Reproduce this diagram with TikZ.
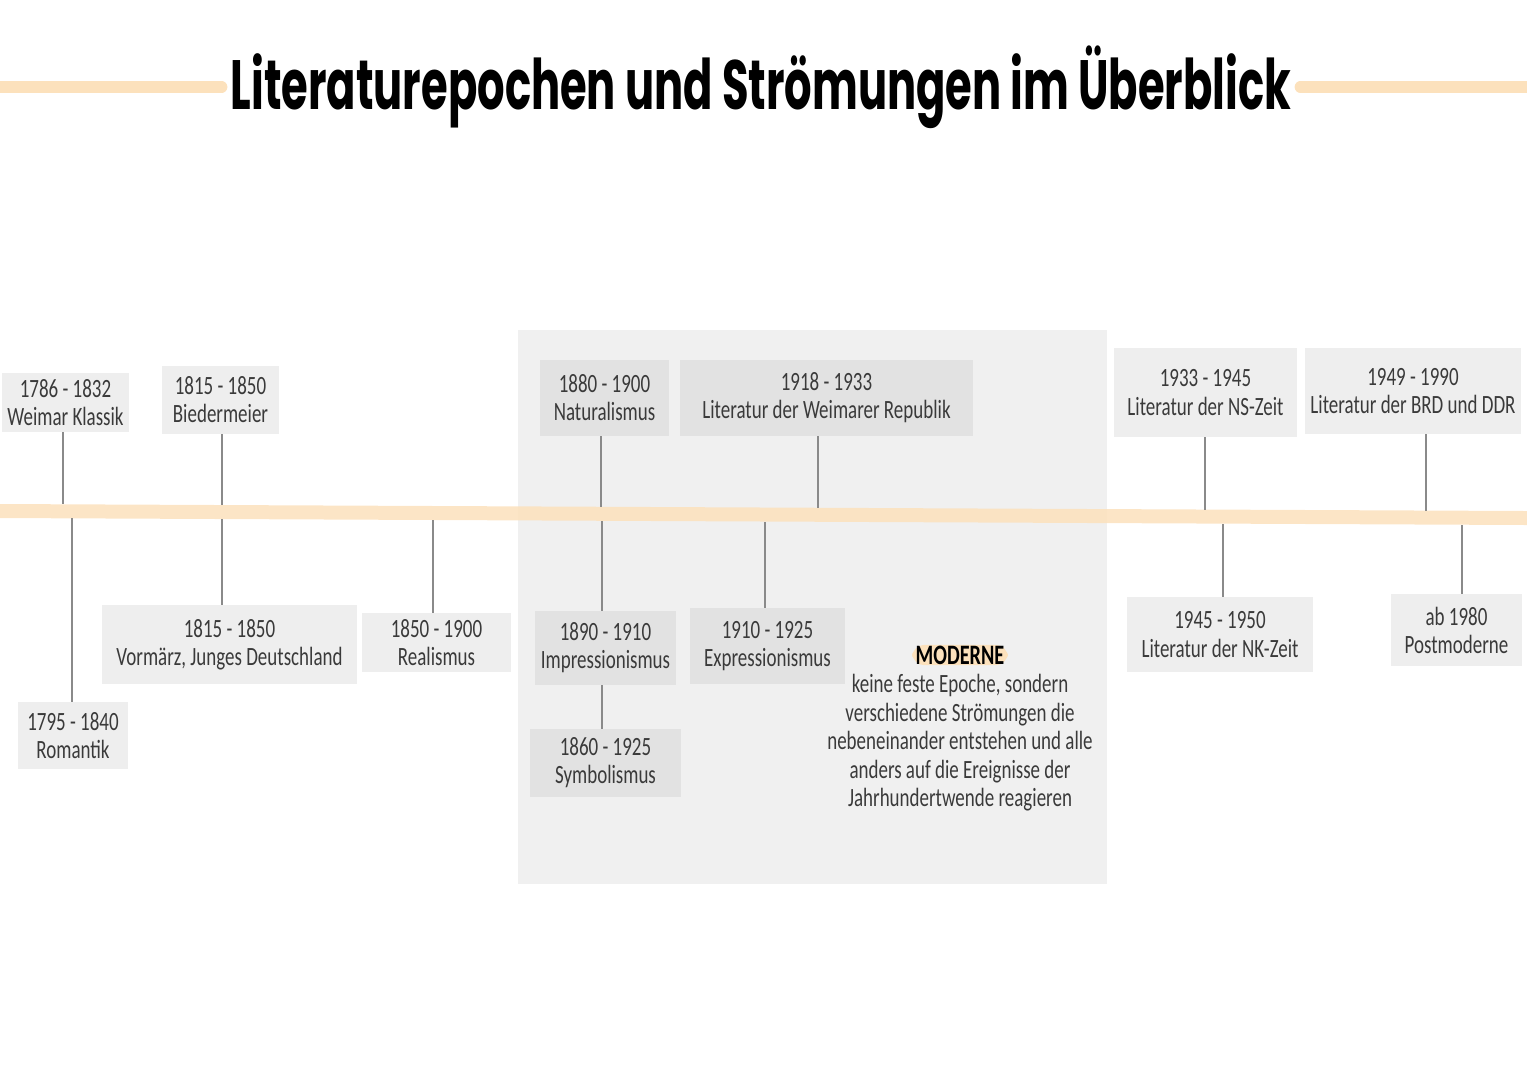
\documentclass[tikz,border=0pt]{standalone}
\usepackage{fontspec}
\setmainfont{Carlito}[FakeStretch=0.72]
\newfontfamily\titelschrift{Poppins}[FakeStretch=0.62]
\definecolor{pfirsich}{HTML}{FCE1BC}
\definecolor{kasten}{HTML}{EEEEEE}
\definecolor{kastendunkel}{HTML}{E2E2E2}
\definecolor{modernegrau}{HTML}{F0F0F0}
\definecolor{stielgrau}{HTML}{8A8A8A}
\definecolor{schrift}{HTML}{3A3A3A}

\begin{document}
\begin{tikzpicture}[x=0.02cm, y=-0.02cm,
  epoche/.style 2 args={fill=kasten, text=schrift, align=center, inner sep=0pt,
    minimum width=#1*0.02cm, minimum height=#2*0.02cm, font=\fontsize{15}{16}\selectfont},
  stiel/.style={stielgrau, line width=0.8pt},
  strahl/.style={pfirsich, line width=0.28cm}]
\useasboundingbox (0,0) rectangle (1527,1080);
% Moderne-Bereich
\fill[modernegrau] (518,330) rectangle (1107,884);
% Titel
\node[anchor=base, inner sep=5pt, font=\titelschrift\bfseries\fontsize{39.7}{40}\selectfont] (titel) at (761,109) {Literaturepochen und Strömungen im Überblick};
\coordinate (randlinks) at (0,87);
\coordinate (randrechts) at (1527,87);
\draw[strahl, line width=0.23cm, line cap=round] (randlinks) -- (randlinks -| titel.west);
\draw[strahl, line width=0.23cm, line cap=round] (randrechts -| titel.east) -- (randrechts);
% Zeitstrahl
\draw[strahl, opacity=0.85] (0,511) -- (1527,518);

% Epochen oben
\node[epoche={127}{59}] (klassik) at (65.5,402.5) {1786 - 1832\\Weimar Klassik};
\node[epoche={117}{68}] (biedermeier) at (220.5,400) {1815 - 1850\\Biedermeier};
\node[epoche={129}{76}, fill=kastendunkel] (naturalismus) at (604.5,398) {1880 - 1900\\Naturalismus};
\node[epoche={293}{76}, fill=kastendunkel] (weimarer) at (826.5,398) {1918 - 1933\\Literatur der Weimarer Republik};
\node[epoche={183}{89}] (nszeit) at (1205.5,392.5) {1933 - 1945\\Literatur der NS-Zeit};
\node[epoche={216}{86}] (brdddr) at (1413,391) {1949 - 1990\\Literatur der BRD und DDR};

% Epochen unten
\node[epoche={255}{79}] (vormaerz) at (229.5,644.5) {1815 - 1850\\Vormärz, Junges Deutschland};
\node[epoche={110}{67}] (romantik) at (73,735.5) {1795 - 1840\\Romantik};
\node[epoche={149}{59}] (realismus) at (436.5,642.5) {1850 - 1900\\Realismus};
\node[epoche={141}{74}, fill=kastendunkel] (impressionismus) at (605.5,648) {1890 - 1910\\Impressionismus};
\node[epoche={151}{68}, fill=kastendunkel] (symbolismus) at (605.5,763) {1860 - 1925\\Symbolismus};
\node[epoche={155}{76}, fill=kastendunkel] (expressionismus) at (767.5,646) {1910 - 1925\\Expressionismus};
\node[epoche={186}{75}] (nkzeit) at (1220,634.5) {1945 - 1950\\Literatur der NK-Zeit};
\node[epoche={131}{72}] (postmoderne) at (1456.5,630) {ab 1980\\Postmoderne};

% Anschlusspunkte am Zeitstrahl
\coordinate (o1) at (63,504);
\coordinate (o2) at (222,505);
\coordinate (o3) at (601,507);
\coordinate (o4) at (818,508);
\coordinate (o5) at (1205,509.5);
\coordinate (o6) at (1426,510.5);
\coordinate (u1) at (72,518);
\coordinate (u2) at (222,519);
\coordinate (u3) at (433,520);
\coordinate (u4) at (602,521);
\coordinate (u5) at (765,522);
\coordinate (u6) at (1223,524);
\coordinate (u7) at (1462,525);

\draw[stiel] (o1 |- klassik.south) -- (o1);
\draw[stiel] (o2 |- biedermeier.south) -- (o2);
\draw[stiel] (o3 |- naturalismus.south) -- (o3);
\draw[stiel] (o4 |- weimarer.south) -- (o4);
\draw[stiel] (o5 |- nszeit.south) -- (o5);
\draw[stiel] (o6 |- brdddr.south) -- (o6);
\draw[stiel] (u1) -- (u1 |- romantik.north);
\draw[stiel] (u2) -- (u2 |- vormaerz.north);
\draw[stiel] (u3) -- (u3 |- realismus.north);
\draw[stiel] (u4) -- (u4 |- impressionismus.north);
\draw[stiel] (u4 |- impressionismus.south) -- (u4 |- symbolismus.north);
\draw[stiel] (u5) -- (u5 |- expressionismus.north);
\draw[stiel] (u6) -- (u6 |- nkzeit.north);
\draw[stiel] (u7) -- (u7 |- postmoderne.north);

% Moderne
\node[fill=pfirsich, rounded corners=7pt, inner xsep=2pt, inner ysep=0.5pt, text=black,
  font=\bfseries\fontsize{16}{16}\selectfont] (moderne) at (960,655) {MODERNE};
\node[align=center, text=schrift, font=\fontsize{15}{16.2}\selectfont] (erklaerung) at (960,743)
  {keine feste Epoche, sondern\\verschiedene Strömungen die\\nebeneinander entstehen und alle\\anders auf die Ereignisse der\\Jahrhundertwende reagieren};
\end{tikzpicture}
\end{document}
